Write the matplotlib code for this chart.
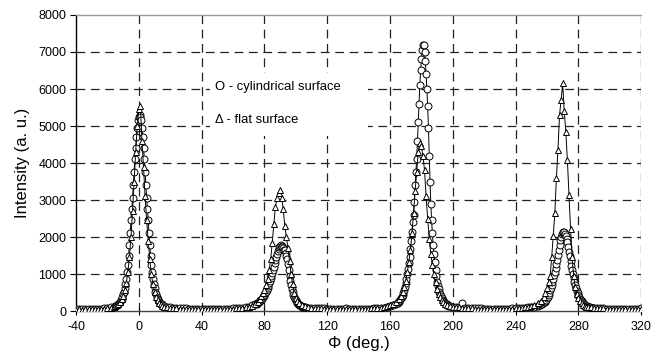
import matplotlib
matplotlib.use('Agg')
import matplotlib.pyplot as plt
from matplotlib.patches import Rectangle
import numpy as np

plt.rcParams['font.family'] = ['Liberation Sans', 'DejaVu Sans']
plt.rcParams['axes.unicode_minus'] = False

# cylindrical surface (circles): angle grid segments and intensities
cyl_phi = [np.arange(-40, -15, 2), np.arange(-15, 15.5, 0.5), np.arange(16, 75, 2),
           np.arange(75, 105.5, 0.5), np.arange(106, 165, 2), np.arange(165, 197.5, 0.5),
           np.arange(198, 255, 2), np.arange(255, 290.5, 0.5), np.arange(292, 321, 2)]
cyl_base1 = [50, 55, 50, 60, 55, 60, 65, 60, 70, 75, 85, 100, 125]
cyl_peak0 = [140, 150, 160, 180, 200, 230, 260, 300, 340, 390, 450, 530, 620, 740, 880,
             1050, 1250, 1500, 1800, 2100, 2450, 2750, 3050, 3400, 3750, 4100, 4400, 4700,
             4950, 5150, 5250, 5300, 5250, 5150, 4950, 4700, 4400, 4100, 3750, 3400, 3050,
             2750, 2450, 2100, 1800, 1500, 1250, 1050, 880, 740, 620, 530, 450, 390, 340,
             300, 260, 230, 200, 180, 160]
cyl_base2 = [140, 120, 105, 95, 88, 80, 75, 72, 70, 66, 64, 62, 60, 62, 58, 60, 62, 60,
             64, 62, 66, 70, 72, 76, 82, 92, 105, 125, 155, 190]
cyl_peak90 = [200, 215, 230, 250, 270, 290, 310, 340, 370, 400, 440, 480, 530, 580, 630,
              690, 750, 820, 890, 960, 1040, 1120, 1200, 1290, 1380, 1470, 1550, 1620, 1690,
              1740, 1770, 1780, 1770, 1740, 1700, 1650, 1640, 1570, 1500, 1400, 1260, 1110,
              960, 820, 710, 610, 520, 440, 380, 330, 290, 250, 220, 195, 175, 160, 145, 135,
              125, 115, 110]
cyl_base3 = [100, 95, 90, 85, 80, 75, 72, 70, 66, 64, 66, 62, 64, 85, 64, 60, 60, 62, 60,
             64, 68, 70, 74, 80, 86, 96, 110, 130, 160, 200]
cyl_peak180 = [230, 250, 280, 310, 350, 390, 440, 500, 570, 650, 750, 860, 990, 1130, 1290,
               1470, 1670, 1900, 2150, 2420, 2600, 2950, 3400, 3750, 4100, 4600, 5100, 5600,
               6100, 6500, 6800, 7050, 7180, 7200, 7000, 6750, 6400, 6000, 5550, 4950, 4200,
               3500, 2900, 2450, 2100, 1800, 1550, 1320, 1120, 950, 800, 690, 590, 510, 450,
               400, 350, 310, 280, 250, 220, 200, 180, 165, 150]
cyl_base4 = [140, 125, 115, 105, 210, 95, 90, 85, 80, 76, 74, 70, 68, 66, 64, 64, 66, 64,
             68, 70, 72, 76, 82, 88, 95, 102, 110, 125, 145]
cyl_peak270 = [160, 170, 180, 190, 200, 215, 235, 255, 280, 310, 350, 390, 440, 500, 560,
               630, 700, 780, 870, 970, 1070, 1170, 1270, 1380, 1520, 1660, 1800, 1920, 2010,
               2080, 2120, 2140, 2130, 2090, 2030, 1960, 1860, 1740, 1610, 1480, 1350, 1230,
               1110, 1000, 890, 790, 700, 620, 550, 490, 430, 380, 340, 300, 265, 235, 210,
               190, 170, 155, 140, 130, 120, 110, 105, 100, 95, 90, 88, 85, 82]
cyl_base5 = [80, 76, 74, 70, 70, 66, 66, 64, 62, 62, 60, 60, 60, 60, 85]

# flat surface (triangles)
flat_phi = [np.arange(-40, -15, 2), np.arange(-15, 16, 1), np.arange(16, 77, 2),
            np.arange(77, 102, 1), np.arange(102, 167, 2), np.arange(167, 196, 1),
            np.arange(196, 259, 2), np.arange(259, 286, 1), np.arange(286, 321, 2)]
flat_base1 = [40, 45, 40, 50, 45, 50, 55, 55, 60, 65, 75, 90, 110]
flat_peak0 = [130, 160, 200, 250, 320, 420, 560, 760, 1050, 1450, 2000, 2700, 3500, 4300,
              5000, 5450, 5550, 4600, 3900, 3100, 2450, 1900, 1400, 1000, 720, 520, 390,
              300, 230, 180, 150]
flat_base2 = [120, 100, 90, 80, 75, 70, 65, 60, 60, 55, 55, 55, 55, 55, 55, 55, 60, 55, 60,
              60, 65, 65, 70, 75, 80, 90, 100, 115, 140, 180, 260]
flat_peak90 = [330, 400, 480, 580, 700, 880, 1100, 1400, 1850, 2350, 2800, 3050, 3200, 3270,
               3050, 2750, 2300, 2000, 1700, 1350, 1000, 720, 500, 360, 270]
flat_base3 = [210, 165, 130, 110, 95, 85, 80, 75, 70, 65, 65, 60, 60, 60, 60, 60, 60, 60,
              60, 65, 65, 70, 70, 75, 80, 85, 95, 110, 130, 160, 200, 260, 340]
flat_peak180 = [420, 520, 650, 820, 1050, 1330, 1650, 2100, 2650, 3250, 3750, 4300, 4550,
                4450, 4200, 3800, 3100, 2500, 1950, 1550, 1250, 1000, 780, 600, 470, 370,
                300, 240, 200]
flat_base4 = [170, 145, 125, 110, 100, 90, 85, 80, 75, 70, 70, 65, 65, 60, 60, 60, 60, 60,
              65, 65, 70, 70, 75, 80, 90, 100, 115, 135, 165, 210, 280, 380]
flat_peak270 = [480, 620, 780, 950, 1450, 2030, 2640, 3590, 4360, 5300, 5700, 6150, 5400,
                4850, 4080, 3140, 2230, 1450, 950, 650, 470, 350, 270, 210, 170, 140, 120]
flat_base5 = [110, 100, 90, 85, 80, 75, 70, 65, 65, 60, 60, 60, 55, 55, 55, 55, 55, 55]

x_ticks = [-40, 0, 40, 80, 120, 160, 200, 240, 280, 320]
y_ticks = [0, 1000, 2000, 3000, 4000, 5000, 6000, 7000, 8000]

cyl_x = np.concatenate(cyl_phi)
cyl_y = np.concatenate([cyl_base1, cyl_peak0, cyl_base2, cyl_peak90, cyl_base3,
                        cyl_peak180, cyl_base4, cyl_peak270, cyl_base5])
flat_x = np.concatenate(flat_phi)
flat_y = np.concatenate([flat_base1, flat_peak0, flat_base2, flat_peak90, flat_base3,
                         flat_peak180, flat_base4, flat_peak270, flat_base5])

fig = plt.figure(figsize=(6.61, 3.56), dpi=100)
ax = fig.add_axes([0.115, 0.126, 0.855, 0.832])

# dashed grid
for xv in x_ticks[1:]:
    ax.axvline(xv, color='#222222', lw=0.9, ls=(0, (7, 4.5)), zorder=1)
for yv in y_ticks[1:-1]:
    ax.axhline(yv, color='#222222', lw=0.9, ls=(0, (7, 4.5)), zorder=1)

ax.plot(cyl_x, cyl_y, color='black', lw=0.7, marker='o', ms=5, mfc='white',
        mec='black', mew=0.7, zorder=3)
ax.plot(flat_x, flat_y, color='black', lw=0.7, marker='^', ms=5, mfc='white',
        mec='black', mew=0.7, zorder=4)

ax.set_xlim(-40, 320)
ax.set_ylim(0, 8000)
ax.set_xticks(x_ticks)
ax.set_yticks(y_ticks)
ax.tick_params(axis='both', labelsize=9, color='black', width=0.8)
ax.tick_params(axis='y', direction='out', length=4, pad=3)
ax.tick_params(axis='x', direction='inout', length=6, pad=4)

ax.spines['right'].set_visible(False)
ax.spines['top'].set_color('#999999')
ax.spines['top'].set_linewidth(1)
ax.spines['left'].set_color('black')
ax.spines['left'].set_linewidth(1)
ax.spines['bottom'].set_color('#444444')
ax.spines['bottom'].set_linewidth(1)

ax.set_xlabel('Φ (deg.)', fontsize=12, labelpad=2)
ax.set_ylabel('Intensity (a. u.)', fontsize=12, labelpad=6)

# white text box behind the two labels (hides the grid there)
ax.add_patch(Rectangle((0.237, 0.593), 0.28, 0.21, transform=ax.transAxes,
                       facecolor='white', edgecolor='none', zorder=2))
ax.text(48.5, 6050, 'O - cylindrical surface', fontsize=9.4, va='center', zorder=5)
ax.text(48.5, 5150, 'Δ - flat surface', fontsize=9.4, va='center', zorder=5)

fig.savefig('out.png', dpi=100)
